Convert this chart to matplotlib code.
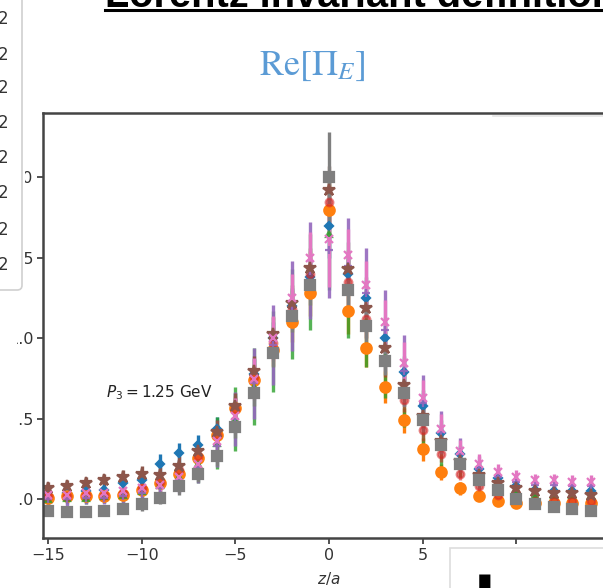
import matplotlib
matplotlib.use("Agg")
import matplotlib.pyplot as plt
from matplotlib.patches import FancyBboxPatch, Rectangle
from matplotlib.lines import Line2D

W, H = 603, 588

z = list(range(-15, 16))

blue = [0.03, 0.04, 0.05, 0.06, 0.10, 0.12, 0.22, 0.29, 0.34, 0.44, 0.58, 0.78, 1.00, 1.20, 1.38, 1.70,
        1.40, 1.25, 1.00, 0.79, 0.58, 0.41, 0.28, 0.19, 0.13, 0.08, 0.06, 0.05, 0.05, 0.05, 0.05]
blue_err = [0.04, 0.04, 0.04, 0.04, 0.05, 0.05, 0.06, 0.06, 0.06, 0.07, 0.08, 0.09, 0.10, 0.11, 0.12, 0.20,
            0.12, 0.11, 0.10, 0.09, 0.08, 0.06, 0.05, 0.05, 0.04, 0.04, 0.04, 0.04, 0.04, 0.04, 0.04]

orange = [0.01, 0.02, 0.02, 0.02, 0.03, 0.06, 0.10, 0.16, 0.26, 0.40, 0.57, 0.74, 0.93, 1.10, 1.28, 1.80,
          1.17, 0.94, 0.70, 0.49, 0.31, 0.17, 0.07, 0.02, -0.01, -0.02, -0.02, -0.02, -0.02, -0.02, -0.02]
orange_err = [0.03, 0.03, 0.03, 0.03, 0.03, 0.03, 0.04, 0.04, 0.05, 0.06, 0.07, 0.08, 0.10, 0.12, 0.14, 0.15,
              0.14, 0.12, 0.10, 0.08, 0.07, 0.05, 0.04, 0.03, 0.03, 0.03, 0.03, 0.03, 0.03, 0.03, 0.03]

green = [0.00, 0.01, 0.01, 0.02, 0.03, 0.05, 0.09, 0.14, 0.22, 0.35, 0.50, 0.70, 0.92, 1.15, 1.35, 1.65,
         1.30, 1.10, 0.88, 0.67, 0.50, 0.35, 0.24, 0.15, 0.10, 0.06, 0.03, 0.03, 0.03, 0.03, 0.03]
green_err = [0.04, 0.04, 0.04, 0.04, 0.05, 0.06, 0.07, 0.09, 0.12, 0.16, 0.20, 0.24, 0.25, 0.28, 0.30, 0.35,
             0.30, 0.28, 0.25, 0.22, 0.18, 0.14, 0.10, 0.08, 0.06, 0.05, 0.04, 0.04, 0.04, 0.04, 0.04]

red = [0.02, 0.02, 0.03, 0.03, 0.04, 0.07, 0.11, 0.18, 0.27, 0.40, 0.56, 0.76, 0.97, 1.18, 1.40, 1.85,
       1.35, 1.12, 0.86, 0.62, 0.43, 0.28, 0.16, 0.08, 0.03, 0.00, -0.01, -0.01, -0.01, -0.01, -0.01]
red_err = [0.03, 0.03, 0.03, 0.03, 0.03, 0.04, 0.04, 0.05, 0.05, 0.06, 0.07, 0.08, 0.10, 0.12, 0.14, 0.15,
           0.14, 0.12, 0.10, 0.08, 0.07, 0.05, 0.04, 0.03, 0.03, 0.03, 0.03, 0.03, 0.03, 0.03, 0.03]

purple = [0.00, 0.00, 0.01, 0.01, 0.02, 0.04, 0.07, 0.12, 0.20, 0.33, 0.50, 0.72, 0.96, 1.20, 1.42, 1.55,
          1.45, 1.28, 1.05, 0.80, 0.60, 0.42, 0.28, 0.19, 0.14, 0.11, 0.09, 0.09, 0.08, 0.08, 0.08]
purple_err = [0.04, 0.04, 0.04, 0.04, 0.05, 0.06, 0.07, 0.08, 0.10, 0.13, 0.17, 0.22, 0.25, 0.28, 0.30, 0.30,
              0.30, 0.28, 0.25, 0.22, 0.17, 0.13, 0.10, 0.08, 0.06, 0.05, 0.04, 0.04, 0.04, 0.04, 0.04]

brown = [0.07, 0.08, 0.10, 0.12, 0.14, 0.16, 0.15, 0.21, 0.30, 0.42, 0.58, 0.80, 1.03, 1.22, 1.44, 1.92,
         1.43, 1.19, 0.94, 0.71, 0.52, 0.36, 0.24, 0.15, 0.10, 0.07, 0.05, 0.04, 0.04, 0.03, 0.03]
brown_err = [0.04, 0.04, 0.04, 0.04, 0.04, 0.05, 0.05, 0.06, 0.06, 0.07, 0.08, 0.09, 0.10, 0.11, 0.12, 0.15,
             0.12, 0.11, 0.10, 0.09, 0.08, 0.07, 0.06, 0.05, 0.05, 0.04, 0.04, 0.04, 0.04, 0.04, 0.04]

pink = [0.03, 0.03, 0.04, 0.04, 0.05, 0.07, 0.09, 0.14, 0.22, 0.36, 0.52, 0.75, 1.00, 1.25, 1.50, 1.62,
        1.52, 1.33, 1.10, 0.85, 0.63, 0.44, 0.30, 0.22, 0.17, 0.14, 0.12, 0.12, 0.11, 0.11, 0.11]
pink_err = [0.04, 0.04, 0.04, 0.04, 0.04, 0.05, 0.05, 0.06, 0.07, 0.09, 0.11, 0.13, 0.14, 0.15, 0.16, 0.30,
            0.16, 0.15, 0.14, 0.13, 0.11, 0.09, 0.07, 0.06, 0.05, 0.04, 0.04, 0.04, 0.04, 0.04, 0.04]

gray = [-0.07, -0.08, -0.08, -0.07, -0.06, -0.03, 0.01, 0.08, 0.16, 0.27, 0.45, 0.66, 0.91, 1.14, 1.33, 2.00,
        1.30, 1.08, 0.86, 0.66, 0.49, 0.34, 0.22, 0.12, 0.06, 0.00, -0.03, -0.05, -0.06, -0.07, -0.07]
gray_err = [0.03, 0.03, 0.03, 0.03, 0.03, 0.04, 0.04, 0.05, 0.05, 0.06, 0.07, 0.08, 0.09, 0.10, 0.12, 0.28,
            0.12, 0.10, 0.09, 0.08, 0.07, 0.06, 0.05, 0.05, 0.04, 0.04, 0.03, 0.03, 0.03, 0.03, 0.03]

xticks = [-15, -10, -5, 0, 5, 10, 15]
yticks = [0.0, 0.5, 1.0, 1.5, 2.0]
side_labels = ["2", "2", "2", "2", "2", "2", "2", "2"]


def fx(x):
    return x / W


def fy(y):
    return 1 - y / H


fig = plt.figure(figsize=(W / 100, H / 100), dpi=100)
fig.patch.set_facecolor("white")

ax = fig.add_axes([fx(43), 50 / H, (615 - 43) / W, 425 / H])

series = [
    (blue, blue_err, "#1f77b4", "D", 4, 1.0),
    (orange, orange_err, "#ff7f0e", "o", 7.5, 1.0),
    (green, green_err, "#2ca02c", "^", 4.5, 0.8),
    (red, red_err, "#d62728", "o", 5.5, 0.55),
    (purple, purple_err, "#9467bd", "+", 6, 0.9),
    (brown, brown_err, "#8c564b", "*", 9, 1.0),
    (pink, pink_err, "#e377c2", "x", 6, 1.0),
    (gray, gray_err, "#7f7f7f", "s", 7.5, 1.0),
]
for vals, errs, col, mk, ms, al in series:
    ax.errorbar(z, vals, yerr=errs, fmt=mk, color=col, ms=ms, mew=1.6,
                elinewidth=2.4, capsize=0, alpha=al)

ax.set_xlim(-15.27, 15.27)
ax.set_ylim(-0.24, 2.40)
ax.set_xticks(xticks)
ax.set_yticks(yticks)
ax.set_xticklabels([f"{t}".replace("-", "\u2212") for t in xticks])
ax.set_yticklabels([f"{t:.1f}" for t in yticks])
ax.tick_params(direction="out", length=4, width=1.2, labelsize=11.5, colors="#333333", pad=3)
for s in ax.spines.values():
    s.set_linewidth(1.8)
    s.set_color("#444444")
ax.set_xlabel("$z/a$", fontsize=11, color="#333333", labelpad=5)
ax.text(-11.9, 0.66, "$P_3 = 1.25$ GeV", fontsize=11, color="#222222", va="center")

# panel heading
fig.text(fx(312), fy(66), r"$\mathrm{Re}[\Pi_E]$", fontsize=26, color="#5b9bd5",
         ha="center", va="center", math_fontfamily="stix")

# slide heading, cut at the top edge
title = fig.text(fx(105), fy(7), "Lorentz invariant definition", fontsize=30,
                 fontweight="bold", family="Liberation Sans", ha="left", va="baseline")
r = fig.canvas.get_renderer()
bb = title.get_window_extent(r)
title.set_fontsize(30 * 510 / bb.width)
bb = title.get_window_extent(r)
fig.add_artist(Line2D([fx(105), fx(105) + bb.width / W], [fy(10), fy(10)],
                      color="black", lw=2.2, transform=fig.transFigure))

# white margin strip hiding the left part of the tick labels
fig.add_artist(Rectangle((0, 0), fx(17), 1, transform=fig.transFigure,
                         facecolor="white", edgecolor="none", zorder=9))
fig.add_artist(Rectangle((0, fy(292)), fx(25), 292 / H, transform=fig.transFigure,
                         facecolor="white", edgecolor="none", zorder=9))

# neighbouring legend box on the left
fig.add_artist(FancyBboxPatch((fx(-20), fy(290)), fx(42), 300 / H,
                              boxstyle="round,pad=0,rounding_size=0.008",
                              transform=fig.transFigure, facecolor="white",
                              edgecolor="#d0d0d0", lw=1.2, zorder=10))
for yy, lab in zip([19, 55, 88, 123, 158, 193, 230, 265], side_labels):
    fig.text(fx(8), fy(yy), lab, fontsize=12, color="#333333", ha="right",
             va="center", zorder=11)

# faint box edge near the top right
fig.add_artist(Line2D([fx(493), fx(603)], [fy(116), fy(116)], color="#e4e4e4",
                      lw=1.2, transform=fig.transFigure))

# box at the bottom right
fig.add_artist(Rectangle((fx(450), fy(600)), fx(200), 52 / H, transform=fig.transFigure,
                         facecolor="white", edgecolor="#dddddd", lw=1.2, zorder=10))
fig.text(fx(474), fy(571), "L", fontsize=56, fontweight="bold", family="Liberation Sans",
         ha="left", va="top", zorder=11)
fig.text(fx(522), fy(582), "ca", fontsize=40, family="Liberation Sans", color="#bdbdbd",
         ha="left", va="top", zorder=11)

fig.savefig("out.png", dpi=100, facecolor="white")
